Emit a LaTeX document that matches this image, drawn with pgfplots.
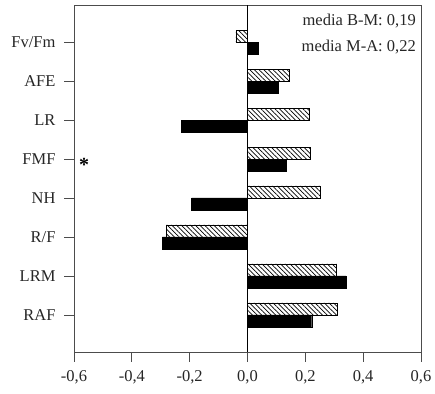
\documentclass[border=0pt]{standalone}
\usepackage{pgfplots}
\pgfplotsset{compat=1.18}
\usepackage{fontspec}
\setmainfont{Liberation Serif}
\usetikzlibrary{patterns.meta}
\begin{document}
\begin{tikzpicture}
\begin{axis}[
  scale only axis, width=347pt, height=347pt,
  xbar, bar width=12pt,
  xmin=-0.6, xmax=0.6, ymin=0.05, ymax=8.95,
  xtick={-0.6,-0.4,...,0.6},
  ytick={1,...,8},
  yticklabels={RAF,LRM,R/F,NH,FMF,LR,AFE,Fv/Fm},
  tick align=outside, tick pos=left,
  major tick length=10pt,
  axis line style={black!70, line width=0.7pt},
  every tick/.style={black!70, line width=0.7pt},
  tick label style={font=\fontsize{16.5}{18}\selectfont, text=black!85},
  yticklabel style={xshift=-5pt},
  xticklabel style={yshift=-5pt, /pgf/number format/fixed, /pgf/number format/fixed zerofill, /pgf/number format/precision=1, /pgf/number format/use comma, /pgf/number format/assume math mode=true},
  extra x ticks={0}, extra x tick labels={},
  extra x tick style={grid=major, major grid style={black, line width=0.6pt}, major tick length=0pt},
  clip=false,
]
\addplot[bar shift=6pt, draw=black, line width=0.5pt,
  pattern={Lines[angle=-45, distance=3.3pt, line width=0.7pt]}]
  coordinates {(0.310,1) (0.308,2) (-0.280,3) (0.252,4) (0.218,5) (0.213,6) (0.143,7) (-0.040,8)};
\addplot[bar shift=-6pt, draw=black, fill=black]
  coordinates {(0.222,1) (0.340,2) (-0.294,3) (-0.193,4) (0.135,5) (-0.229,6) (0.105,7) (0.038,8)};
\node[anchor=base east, inner sep=0pt, font=\fontsize{16.5}{18}\selectfont, text=black!85] at (rel axis cs:0.9856,0.942) {media B-M: 0,19};
\node[anchor=base east, inner sep=0pt, font=\fontsize{16.5}{18}\selectfont, text=black!85] at (rel axis cs:0.9856,0.865) {media M-A: 0,22};
\node[font=\fontsize{20}{20}\selectfont\bfseries] at (axis cs:-0.565,4.85) {*};
\end{axis}
\path (current axis.south west) ++(-74pt,-42pt) coordinate (bbA);
\path (current axis.north west) ++(361pt,5pt) coordinate (bbB);
\useasboundingbox (bbA) rectangle (bbB);
\end{tikzpicture}
\end{document}
